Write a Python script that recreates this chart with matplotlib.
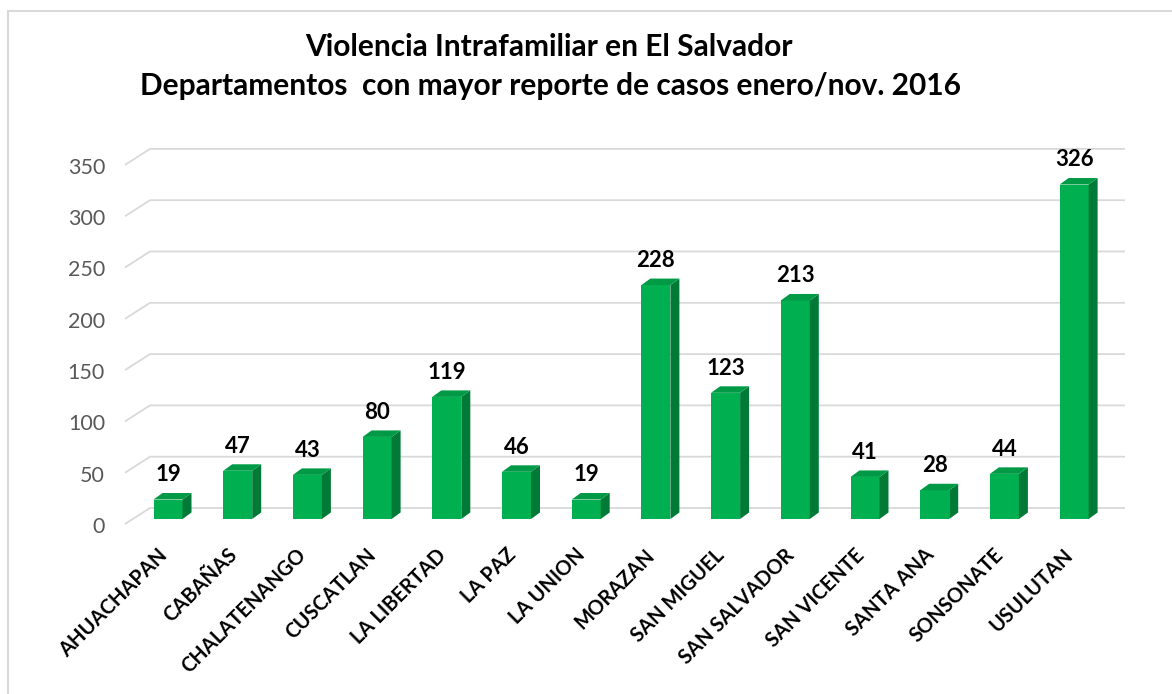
"""violencia intrafamiliar - 3d style column chart"""

import matplotlib.pyplot as plt
from matplotlib.patches import Polygon, Rectangle

departamentos = ['AHUACHAPAN', 'CABAÑAS', 'CHALATENANGO', 'CUSCATLAN', 'LA LIBERTAD',
                 'LA PAZ', 'LA UNION', 'MORAZAN', 'SAN MIGUEL', 'SAN SALVADOR',
                 'SAN VICENTE', 'SANTA ANA', 'SONSONATE', 'USULUTAN']
casos = [19, 47, 43, 80, 119, 46, 19, 228, 123, 213, 41, 28, 44, 326]
y_ticks = [0, 50, 100, 150, 200, 250, 300, 350]

titulo = ['Violencia Intrafamiliar en El Salvador',
          'Departamentos  con mayor reporte de casos enero/nov. 2016']

W, H = 1172, 694
X0, DX = 168, 69.7      # pixel x of first category, pixels per category
Y0, K = 519, 1.026      # pixel y of value 0 (bar front), pixels per unit

FRONT = '#00B050'
SIDE = '#007A36'
TOP = '#009A46'
GRID = '#D9D9D9'

plt.rcParams['font.family'] = ['Lato', 'DejaVu Sans']

fig = plt.figure(figsize=(W / 100, H / 100), dpi=100)
ax = fig.add_axes([0, 0, 1, 1])
ax.set_xlim(-X0 / DX, (W - X0) / DX)
ax.set_ylim((Y0 - H) / K, Y0 / K)
ax.axis('off')

# sizes in data units
bw = 29 / DX            # bar front width
ddx = 9 / DX            # depth shift right
ddy = 6.5 / K           # depth shift up
back_dy = 11 / K        # back wall above bar front
front_dy = -5 / K       # front edge of floor
gx_front = (125 - X0) / DX
gx_back = (150 - X0) / DX
gx_right = (1125 - X0) / DX

# gridlines on the back wall with the left diagonal
for t in y_ticks:
    ax.plot([gx_front, gx_back, gx_right],
            [t + front_dy, t + back_dy, t + back_dy],
            c=GRID, lw=1.3, zorder=0, solid_capstyle='butt')
    ax.text(gx_front - 20 / DX, t + front_dy - 3 / K, str(t),
            ha='right', va='center', fontsize=15.5, color='#595959')

# bars: front face, side and top
xs = list(range(len(casos)))
ax.bar(xs, casos, width=bw, color=FRONT, zorder=2)
for x, v in zip(xs, casos):
    r = x + bw / 2
    l = x - bw / 2
    side = [(r, 0), (r + ddx, ddy), (r + ddx, v + ddy), (r, v)]
    top = [(l, v), (l + ddx, v + ddy), (r + ddx, v + ddy), (r, v)]
    ax.add_patch(Polygon(side, closed=True, fc=SIDE, ec='none', zorder=2))
    ax.add_patch(Polygon(top, closed=True, fc=TOP, ec='none', zorder=2))
    ax.annotate(str(v), (x, v), xytext=(0, 13), textcoords='offset points',
                ha='center', va='baseline', fontsize=16, fontweight='bold')

# category labels, rotated
for x, name in zip(xs, departamentos):
    ax.text(x - 4 / DX, (Y0 - 552) / K, name, rotation=45, rotation_mode='anchor',
            ha='right', va='center', fontsize=14.5, fontweight='bold')

fig.text(549 / W, 1 - 47 / H, titulo[0], ha='center', va='center',
         fontsize=21.5, fontweight='bold')
fig.text(550 / W, 1 - 86 / H, titulo[1], ha='center', va='center',
         fontsize=21.5, fontweight='bold')

# chart frame, right and bottom edges run past the picture
fig.patches.append(Rectangle((8 / W, -0.05), 1.1, 1.05 - 11 / H,
                             transform=fig.transFigure, fill=False,
                             ec=GRID, lw=1.5))

plt.savefig('out.png', dpi=100)
